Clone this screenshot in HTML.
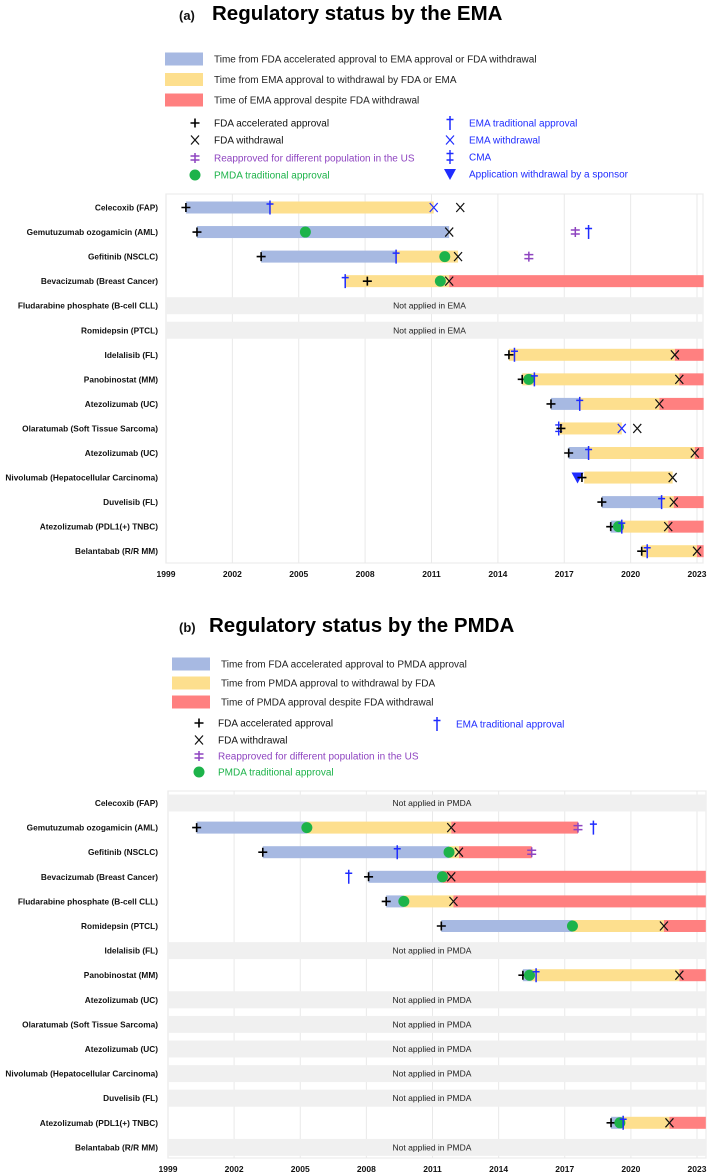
<!DOCTYPE html>
<html><head><meta charset="utf-8">
<style>
html,body{margin:0;padding:0;background:#fff;}
svg{display:block;font-family:"Liberation Sans",Arial,sans-serif;}
</style></head>
<body>
<svg id="chart" width="709" height="1175" viewBox="0 0 709 1175"></svg>
<script>
// ---------- Data ----------
const categories = ["Celecoxib (FAP)","Gemutuzumab ozogamicin (AML)","Gefitinib (NSCLC)","Bevacizumab (Breast Cancer)","Fludarabine phosphate (B-cell CLL)","Romidepsin (PTCL)","Idelalisib (FL)","Panobinostat (MM)","Atezolizumab (UC)","Olaratumab (Soft Tissue Sarcoma)","Atezolizumab (UC)","Nivolumab (Hepatocellular Carcinoma)","Duvelisib (FL)","Atezolizumab (PDL1(+) TNBC)","Belantabab (R/R MM)"];
const yearTicks = [1999,2002,2005,2008,2011,2014,2017,2020,2023];

// Panel A (EMA) segments: row, start, end, type
const emaSegRow   = [0,0, 1, 2,2, 3,3, 6,6, 7,7, 8,8,8, 9, 10,10,10, 11, 12,12,12, 13,13,13, 14,14];
const emaSegStart = [1999.9,2003.7, 2000.4, 2003.3,2009.4, 2007.1,2011.8, 2014.5,2022.0, 2015.1,2022.2, 2016.4,2017.7,2021.3, 2016.8, 2017.2,2018.1,2022.9, 2017.9, 2018.7,2021.4,2021.95, 2019.1,2019.6,2021.7, 2020.5,2023.0];
const emaSegEnd   = [2003.7,2011.1, 2011.8, 2009.4,2012.2, 2011.8,2023.3, 2022.0,2023.3, 2022.2,2023.3, 2017.7,2021.3,2023.3, 2019.6, 2018.1,2022.9,2023.3, 2021.9, 2021.4,2021.95,2023.3, 2019.6,2021.7,2023.3, 2023.0,2023.3];
const emaSegType  = ["blue","yellow", "blue", "blue","yellow", "yellow","red", "yellow","red", "yellow","red", "blue","yellow","red", "yellow", "blue","yellow","red", "yellow", "blue","yellow","red", "blue","yellow","red", "yellow","red"];
const emaNotApplied = [4,5];
// markers
const emaMkRow  = [0,0,0,0, 1,1,1,1,1, 2,2,2,2,2, 3,3,3,3, 6,6,6, 7,7,7,7, 8,8,8, 9,9,9,9, 10,10,10, 11,11,11, 12,12,12, 13,13,13,13, 14,14,14];
const emaMkYear = [1999.9,2003.7,2011.1,2012.3, 2000.4,2005.3,2011.8,2017.5,2018.1, 2003.3,2009.4,2011.6,2012.2,2015.4, 2007.1,2008.1,2011.4,2011.8, 2014.5,2014.75,2022.0, 2015.1,2015.4,2015.65,2022.2, 2016.4,2017.7,2021.3, 2016.75,2016.85,2019.6,2020.3, 2017.2,2018.1,2022.9, 2017.6,2017.8,2021.9, 2018.7,2021.4,2021.95, 2019.1,2019.45,2019.6,2021.7, 2020.5,2020.75,2023.0];
const emaMkType = ["plus","dagger","xblue","x", "plus","dot","x","reapp","dagger", "plus","dagger","dot","x","reapp", "dagger","plus","dot","x", "plus","dagger","x", "plus","dot","dagger","x", "plus","dagger","x", "cma","plus","xblue","x", "plus","dagger","x", "tri","plus","x", "plus","dagger","x", "plus","dot","dagger","x", "plus","dagger","x"];

// Panel B (PMDA)
const pmdaSegRow   = [1,1,1, 2,2,2, 3,3, 4,4,4, 5,5,5, 7,7,7, 13,13,13];
const pmdaSegStart = [2000.3,2005.3,2011.85, 2003.3,2011.75,2012.2, 2008.1,2011.45, 2008.9,2009.7,2011.95, 2011.4,2017.35,2021.5, 2015.1,2015.5,2022.2, 2019.1,2019.6,2021.75];
const pmdaSegEnd   = [2005.3,2011.85,2017.6, 2011.75,2012.2,2015.5, 2011.45,2023.4, 2009.7,2011.95,2023.4, 2017.35,2021.5,2023.4, 2015.5,2022.2,2023.4, 2019.6,2021.75,2023.4];
const pmdaSegType  = ["blue","yellow","red", "blue","yellow","red", "blue","red", "blue","yellow","red", "blue","yellow","red", "blue","yellow","red", "blue","yellow","red"];
const pmdaNotApplied = [0,6,8,9,10,11,12,14];
const pmdaMkRow  = [1,1,1,1,1, 2,2,2,2,2, 3,3,3,3, 4,4,4, 5,5,5, 7,7,7,7, 13,13,13,13];
const pmdaMkYear = [2000.3,2005.3,2011.85,2017.6,2018.3, 2003.3,2009.4,2011.75,2012.2,2015.5, 2007.2,2008.1,2011.45,2011.85, 2008.9,2009.7,2011.95, 2011.4,2017.35,2021.5, 2015.1,2015.4,2015.7,2022.2, 2019.1,2019.5,2019.65,2021.75];
const pmdaMkType = ["plus","dot","x","reapp","dagger", "plus","dagger","dot","x","reapp", "dagger","plus","dot","x", "plus","dot","x", "plus","dot","x", "plus","dot","dagger","x", "plus","dot","dagger","x"];

// ---------- Drawing ----------
const NS = "http://www.w3.org/2000/svg";
const svg = document.getElementById("chart");
const COL = {blue:"#a7b9e2", yellow:"#fddf8e", red:"#ff8080", green:"#1db34a", dblue:"#1f2cff", purple:"#8e44c0"};
function mk(tag, attrs, parent){
  const e = document.createElementNS(NS, tag);
  for (const k in attrs) e.setAttribute(k, attrs[k]);
  (parent||svg).appendChild(e);
  return e;
}
function txt(x,y,s,attrs,parent){
  const t = mk("text", Object.assign({x:x,y:y}, attrs), parent);
  t.textContent = s;
  return t;
}
function marker(g, type, x, y){
  const m = mk("g", {}, g);
  
  
  if (type === "plus"){
    mk("path",{d:`M${x-4.5} ${y}H${x+4.5}M${x} ${y-4.5}V${y+4.5}`,stroke:"#000","stroke-width":1.6,fill:"none"},m);
  } else if (type === "x" || type === "xblue"){
    mk("path",{d:`M${x-4} ${y-4.5}L${x+4} ${y+4.5}M${x+4} ${y-4.5}L${x-4} ${y+4.5}`,stroke:type==="x"?"#111":COL.dblue,"stroke-width":1.2,fill:"none"},m);
  } else if (type === "dagger"){
    mk("path",{d:`M${x} ${y-7}V${y+7}M${x-3.5} ${y-3.5}H${x+3.5}`,stroke:COL.dblue,"stroke-width":1.5,fill:"none"},m);
  } else if (type === "cma"){
    mk("path",{d:`M${x} ${y-7}V${y+7}M${x-3.5} ${y-3.5}H${x+3.5}M${x-3.5} ${y+3}H${x+3.5}`,stroke:COL.dblue,"stroke-width":1.4,fill:"none"},m);
  } else if (type === "reapp"){
    mk("path",{d:`M${x-4.5} ${y-2}H${x+4.5}M${x-4.5} ${y+2}H${x+4.5}M${x} ${y-5}V${y+5}`,stroke:COL.purple,"stroke-width":1.5,fill:"none"},m);
  } else if (type === "dot"){
    mk("circle",{cx:x,cy:y,r:5.5,fill:COL.green},m);
  } else if (type === "tri"){
    mk("path",{d:`M${x-6} ${y-5}H${x+6}L${x} ${y+6}Z`,fill:COL.dblue},m);
  }
  return m;
}

function drawPanel(cfg){
  const g = mk("g",{});
  
  
  const xs = yr => cfg.x0 + (yr - 1999) * (cfg.x1 - cfg.x0) / 24;
  const ys = i => cfg.rowY0 + i * cfg.rowStep;

  const tl = txt(cfg.letterX, cfg.titleY, cfg.letter, {"font-size":13,"font-weight":"bold",fill:"#111"}, g);
  
  
  const tt = txt(cfg.titleX, cfg.titleY, cfg.title, {"font-size":20.5,"font-weight":"bold",fill:"#000"}, g);
  
  

  const lg = mk("g",{},g);
  
  
  cfg.swatches.forEach((s,i)=>{
    const y = cfg.swY0 + i*cfg.swStep;
    const e = mk("g",{},lg);
    
    
    mk("rect",{x:cfg.swX,y:y-6.5,width:38,height:13,fill:COL[s[0]]},e);
    txt(cfg.swX+49, y+3.5, s[1], {"font-size":10,fill:"#222"}, e);
  });
  cfg.markers.forEach(mm=>{
    const e = mk("g",{},lg);
    
    
    marker(e, mm[0], mm[1], mm[2]);
    txt(mm[1]+19, mm[2]+3.5, mm[3], {"font-size":10,fill:mm[4]}, e);
  });

  const pw = cfg.plotRight - cfg.x0;
  mk("rect",{x:cfg.x0,y:cfg.plotTop,width:pw,height:cfg.plotBottom-cfg.plotTop,fill:"#fff",stroke:"#ececec","stroke-width":1.2},g);
  yearTicks.forEach(t=>{
    const gl = mk("line",{x1:xs(t),x2:xs(t),y1:cfg.plotTop,y2:cfg.plotBottom,stroke:"#e9e9e9","stroke-width":1},g);
    
    
    const tk = txt(xs(t), cfg.tickY, String(t), {"font-size":8.5,"font-weight":"bold","text-anchor":"middle",fill:"#111"}, g);
    
    
  });
  cfg.notApplied.forEach(r=>{
    const b = mk("g",{},g);
    
    
    mk("rect",{x:cfg.x0,y:ys(r)-8.5,width:pw,height:17,fill:"#f0f0f0"},b);
    txt(cfg.x0 + pw/2 - 5, ys(r)+3, cfg.naText, {"font-size":8.5,"text-anchor":"middle",fill:"#222"}, b);
  });
  categories.forEach((c,i)=>{
    const l = txt(cfg.labelX, ys(i)+3, c, {"font-size":8.3,"font-weight":"bold","text-anchor":"end",fill:"#111"}, g);
    
    
  });
  cfg.segRow.forEach((r,k)=>{
    const a = xs(cfg.segStart[k]), b = xs(cfg.segEnd[k]);
    const rc = mk("rect",{x:a,y:ys(r)-6,width:Math.max(0,b-a),height:12,fill:COL[cfg.segType[k]]},g);
    
    
  });
  cfg.mkRow.forEach((r,k)=>{
    marker(g, cfg.mkType[k], xs(cfg.mkYear[k]), ys(r));
  });
}

drawPanel({
  name:"panel-a-ema", letter:"(a)", title:"Regulatory status by the EMA", letterX:179, titleX:212, titleY:20,
  swX:165, swY0:59, swStep:20.5,
  swatches:[["blue","Time from FDA accelerated approval to EMA approval or FDA withdrawal"],["yellow","Time from EMA approval to withdrawal by FDA or EMA"],["red","Time of EMA approval despite FDA withdrawal"]],
  markers:[["plus",195,123,"FDA accelerated approval","#111"],["x",195,140,"FDA withdrawal","#111"],["reapp",195,158,"Reapproved for different population in the US",COL.purple],["dot",195,175,"PMDA traditional approval",COL.green],
           ["dagger",450,123,"EMA traditional approval",COL.dblue],["xblue",450,140,"EMA withdrawal",COL.dblue],["cma",450,157,"CMA",COL.dblue],["tri",450,174,"Application withdrawal by a sponsor",COL.dblue]],
  x0:166, x1:697, plotRight:703, plotTop:194, plotBottom:563, rowY0:207.5, rowStep:24.55, tickY:577, labelX:158,
  notApplied:emaNotApplied, naText:"Not applied in EMA",
  segRow:emaSegRow, segStart:emaSegStart, segEnd:emaSegEnd, segType:emaSegType,
  mkRow:emaMkRow, mkYear:emaMkYear, mkType:emaMkType
});
drawPanel({
  name:"panel-b-pmda", letter:"(b)", title:"Regulatory status by the PMDA", letterX:179, titleX:209, titleY:632,
  swX:172, swY0:664, swStep:19,
  swatches:[["blue","Time from FDA accelerated approval to PMDA approval"],["yellow","Time from PMDA approval to withdrawal by FDA"],["red","Time of PMDA approval despite FDA withdrawal"]],
  markers:[["plus",199,723,"FDA accelerated approval","#111"],["x",199,740,"FDA withdrawal","#111"],["reapp",199,756,"Reapproved for different population in the US",COL.purple],["dot",199,772,"PMDA traditional approval",COL.green],
           ["dagger",437,724,"EMA traditional approval",COL.dblue]],
  x0:168, x1:697, plotRight:706, plotTop:791, plotBottom:1158, rowY0:803, rowStep:24.6, tickY:1172, labelX:158,
  notApplied:pmdaNotApplied, naText:"Not applied in PMDA",
  segRow:pmdaSegRow, segStart:pmdaSegStart, segEnd:pmdaSegEnd, segType:pmdaSegType,
  mkRow:pmdaMkRow, mkYear:pmdaMkYear, mkType:pmdaMkType
});
</script>
</body></html>
